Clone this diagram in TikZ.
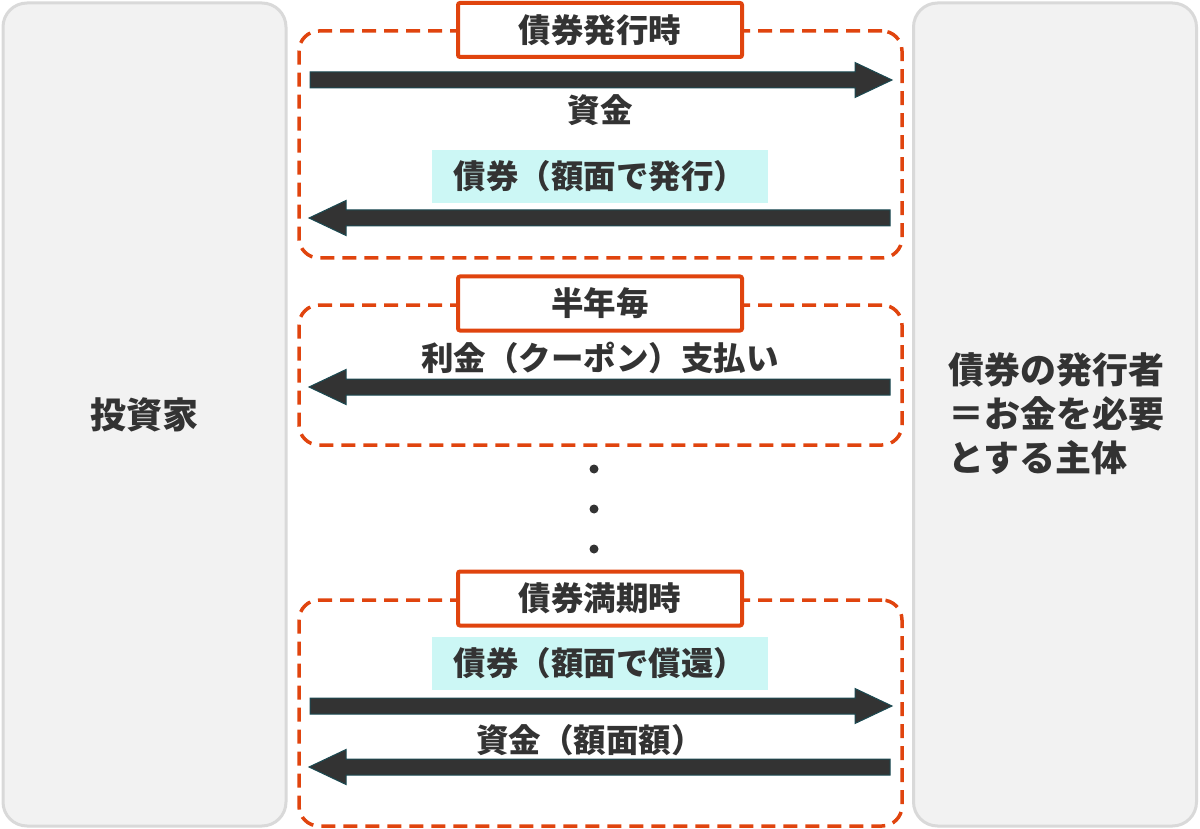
\documentclass[tikz,border=0pt]{standalone}
\usepackage{fontspec}
\setmainfont{Noto Sans CJK JP}
\usetikzlibrary{arrows.meta,calc}
\definecolor{sidefill}{HTML}{F2F2F2}
\definecolor{sideline}{HTML}{D9D9D9}
\definecolor{accent}{HTML}{E0440E}
\definecolor{cyanbg}{HTML}{CCF7F5}
\definecolor{txt}{HTML}{333333}
\definecolor{arrfill}{HTML}{333333}
\definecolor{arredge}{HTML}{1B4A52}
\newcommand\fatR[2]{\filldraw[arrowbody] ($(#1)+(0,-8)$) -- ($(#2)+(-37,-8)$) -- ($(#2)+(-37,-17.5)$) -- (#2) -- ($(#2)+(-37,17.5)$) -- ($(#2)+(-37,8)$) -- ($(#1)+(0,8)$) -- cycle;}
\newcommand\fatL[2]{\filldraw[arrowbody] ($(#1)+(0,-8)$) -- ($(#2)+(37,-8)$) -- ($(#2)+(37,-17.5)$) -- (#2) -- ($(#2)+(37,17.5)$) -- ($(#2)+(37,8)$) -- ($(#1)+(0,8)$) -- cycle;}
\begin{document}
\begin{tikzpicture}[x=1pt,y=-1pt,
  sidebox/.style={draw=sideline,fill=sidefill,line width=3pt,rounded corners=24pt,minimum width=283pt,minimum height=823pt,inner sep=0pt,text=txt,font=\fontsize{36}{44}\selectfont\bfseries},
  groupbox/.style={draw=accent,dash pattern=on 14pt off 8pt,line width=3.5pt,rounded corners=20pt,minimum width=603pt,inner sep=0pt},
  labelbox/.style={draw=accent,fill=white,line width=4pt,rounded corners=2pt,minimum width=284pt,minimum height=54pt,inner sep=0pt,text=txt,font=\fontsize{32.5}{38}\selectfont\bfseries},
  flowtext/.style={text=txt,font=\fontsize{32.5}{38}\selectfont\bfseries,inner sep=0pt},
  hilite/.style={flowtext,fill=cyanbg,minimum width=336pt,minimum height=53pt},
  arrowbody/.style={fill=arrfill,draw=arredge,line width=1pt,line join=miter},
  dot/.style={circle,fill=arrfill,minimum size=9pt,inner sep=0pt}
]
\useasboundingbox (0,0) rectangle (1200,829);
% side boxes
\node[sidebox] (inv) at (144.5,414.5) {投資家};
\node[sidebox] (iss) at (1055,414.5) {};
\node[text=txt,font=\fontsize{36}{44}\selectfont\bfseries,align=left,anchor=west,inner sep=0pt] (isstext) at (948,414) {債券の発行者\\＝お金を必要\\とする主体};
% group boxes
\node[groupbox,minimum height=227pt] (g1) at (600.5,144.5) {};
\node[groupbox,minimum height=140pt] (g2) at (600.5,375) {};
\node[groupbox,minimum height=226pt] (g3) at (600.5,713) {};
% labels
\node[labelbox] (l1) at (600,30) {債券発行時};
\node[labelbox] (l2) at (600,303.5) {半年毎};
\node[labelbox] (l3) at (600,598.5) {債券満期時};
% group 1
\coordinate (a1s) at (310,80);
\coordinate (a1e) at (892,80);
\fatR{a1s}{a1e}
\node[flowtext] (t1) at (600,110) {資金};
\node[hilite] (t2) at (600,176.5) {債券（額面で発行）};
\coordinate (a2s) at (890,218);
\coordinate (a2e) at (309,218);
\fatL{a2s}{a2e}
% group 2
\node[flowtext] (t3) at (600,358) {利金（クーポン）支払い};
\coordinate (a3s) at (890,387);
\coordinate (a3e) at (309,387);
\fatL{a3s}{a3e}
% dots
\node[dot] (d1) at (594,469) {};
\node[dot] (d2) at (594,509) {};
\node[dot] (d3) at (594,549) {};
% group 3
\node[hilite] (t4) at (600,663.5) {債券（額面で償還）};
\coordinate (a4s) at (310,706);
\coordinate (a4e) at (892,706);
\fatR{a4s}{a4e}
\node[flowtext] (t5) at (590,740) {資金（額面額）};
\coordinate (a5s) at (890,767);
\coordinate (a5e) at (309,767);
\fatL{a5s}{a5e}
\end{tikzpicture}
\end{document}
